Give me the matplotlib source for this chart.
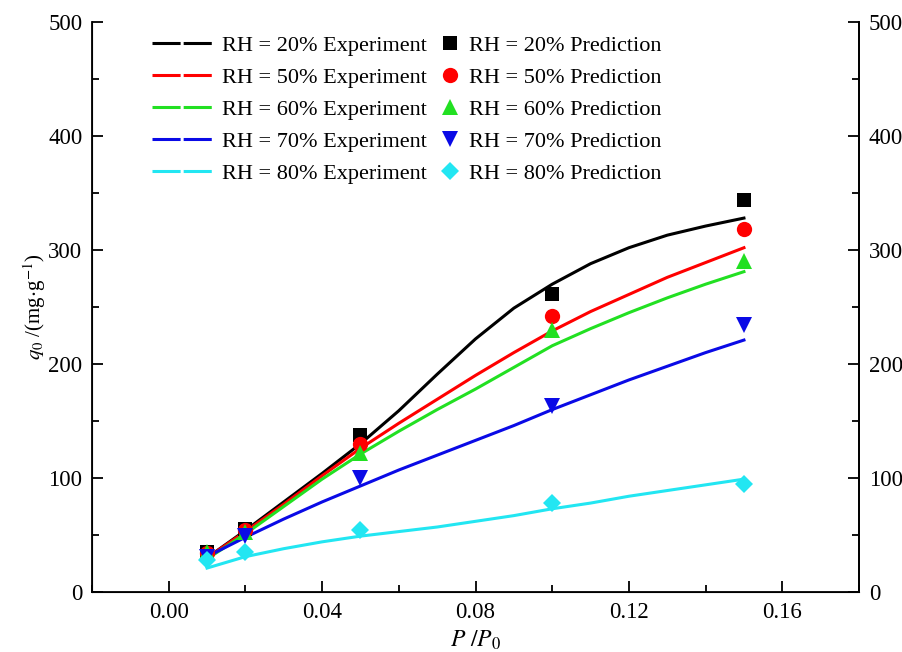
import numpy as np
import matplotlib
matplotlib.use('Agg')
import matplotlib.pyplot as plt
from matplotlib.lines import Line2D
from matplotlib.ticker import MultipleLocator

plt.rcParams['font.family'] = ['Liberation Serif', 'DejaVu Serif']
plt.rcParams['mathtext.fontset'] = 'stix'

# Relative pressure where predictions were made
p_pred = [0.01, 0.02, 0.05, 0.10, 0.15]

# Predicted adsorption (markers), mg/g
q_pred_20 = [35, 55, 138, 261, 344]
q_pred_50 = [34, 54, 130, 242, 318]
q_pred_60 = [35, 53, 122, 230, 290]
q_pred_70 = [31, 49, 100, 163, 234]
q_pred_80 = [28, 35, 54, 78, 95]

p_exp = [0.01, 0.02, 0.03, 0.04, 0.05, 0.06, 0.07, 0.08,
         0.09, 0.10, 0.11, 0.12, 0.13, 0.14, 0.15]
q_exp_20 = [30, 54, 79, 104, 130, 159, 191, 222, 249, 270, 288, 302, 313, 321, 328]
q_exp_50 = [30, 53, 77, 102, 126, 148, 169, 190, 210, 229, 246, 261, 276, 289, 302]
q_exp_60 = [29, 51, 75, 99, 121, 141, 160, 178, 197, 216, 231, 245, 258, 270, 281]
q_exp_70 = [31, 48, 64, 79, 93, 107, 120, 133, 146, 160, 173, 186, 198, 210, 221]
q_exp_80 = [21, 31, 38, 44, 49, 53, 57, 62, 67, 73, 78, 84, 89, 94, 99]

rh_labels = ['20', '50', '60', '70', '80']
colores = ['#000000', '#ff0000', '#22e022', '#0a0ae6', '#22e6f2']
marcadores = ['s', 'o', '^', 'v', 'D']
tamanhos = [10, 11, 12, 12, 9.5]

exp_series = [q_exp_20, q_exp_50, q_exp_60, q_exp_70, q_exp_80]
pred_series = [q_pred_20, q_pred_50, q_pred_60, q_pred_70, q_pred_80]

fig = plt.figure(figsize=(9.03, 6.52), dpi=100)
ax = fig.add_axes([92 / 903, 60 / 652, 767 / 903, 570 / 652])

for q, c in zip(exp_series, colores):
    ax.plot(p_exp, q, color=c, lw=2.2, zorder=2, solid_joinstyle='round')

for q, c, m, s in zip(pred_series, colores, marcadores, tamanhos):
    ax.plot(p_pred, q, linestyle='none', marker=m, color=c, markersize=s,
            markeredgewidth=0, zorder=3)

ax.set_xlim(-0.02, 0.18)
ax.set_ylim(0, 500)
ax.set_xticks([0.00, 0.04, 0.08, 0.12, 0.16])
ax.set_xticklabels(['0.00', '0.04', '0.08', '0.12', '0.16'])
ax.xaxis.set_minor_locator(MultipleLocator(0.02))
ax.yaxis.set_major_locator(MultipleLocator(100))
ax.yaxis.set_minor_locator(MultipleLocator(50))

ax.spines['top'].set_visible(False)
for lado in ['left', 'bottom', 'right']:
    ax.spines[lado].set_linewidth(1.3)
ax.tick_params(which='both', direction='in', labelsize=16.5, width=1.3, pad=7)
ax.tick_params(which='major', length=8)
ax.tick_params(which='minor', length=5)

# Eixo direito espelhado
ax2 = ax.twinx()
ax2.set_ylim(ax.get_ylim())
ax2.yaxis.set_major_locator(MultipleLocator(100))
ax2.yaxis.set_minor_locator(MultipleLocator(50))
ax2.spines['top'].set_visible(False)
ax2.spines['right'].set_linewidth(1.3)
ax2.tick_params(which='both', direction='in', labelsize=16.5, width=1.3, pad=7)
ax2.tick_params(which='major', length=8)
ax2.tick_params(which='minor', length=5)

ax.set_xlabel(r'$P\ /P_0$', fontsize=17, labelpad=4)
ax.set_ylabel(r'$q_0$ /(mg$\cdot$g$^{-1}$)', fontsize=15, labelpad=0)

# Legendas
h_exp = [Line2D([], [], color=c, lw=2.2, dashes=[9.2, 1.0]) for c in colores]
l_exp = ['RH = %s%% Experiment' % r for r in rh_labels]
h_pred = [Line2D([], [], color=c, marker=m, markersize=s, linestyle='none',
                 markeredgewidth=0)
          for c, m, s in zip(colores, marcadores, tamanhos)]
l_pred = ['RH = %s%% Prediction' % r for r in rh_labels]

leg1 = ax.legend(h_exp, l_exp, loc='upper left', bbox_to_anchor=(0.078, 0.976),
                 frameon=False, fontsize=16, handlelength=2.7, handletextpad=0.45,
                 labelspacing=0.51, borderpad=0, borderaxespad=0)
ax.add_artist(leg1)
ax.legend(h_pred, l_pred, loc='upper left', bbox_to_anchor=(0.455, 0.976),
          frameon=False, fontsize=16, handlelength=0.8, handletextpad=0.45,
          labelspacing=0.51, borderpad=0, borderaxespad=0)

fig.savefig('out.png', dpi=100)
